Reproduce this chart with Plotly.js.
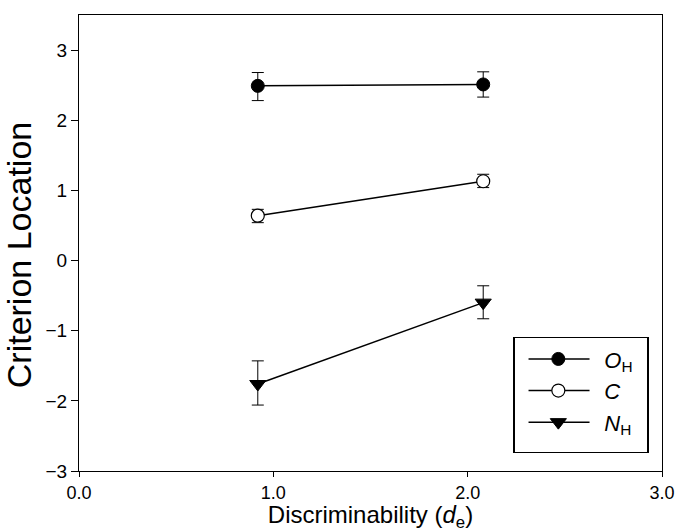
<!DOCTYPE html>
<html>
<head>
<meta charset="utf-8">
<script src="https://cdn.plot.ly/plotly-3.0.1.min.js"></script>
<style>html,body{margin:0;padding:0;background:#fff;}#chart{width:676px;height:532px;}</style>
</head>
<body>
<div id="chart"></div>
<script>
const xVals = [0.92, 2.08];
const seriesNames = ["<i>O</i><sub>H</sub>", "<i>C</i>", "<i>N</i><sub>H</sub>"];
const ohY = [2.49, 2.51];
const ohErrPlus = [0.19, 0.18];
const ohErrMinus = [0.21, 0.18];
const cY = [0.64, 1.13];
const cErrPlus = [0.09, 0.10];
const cErrMinus = [0.10, 0.09];
const nhY = [-1.76, -0.60];
const nhErrPlus = [0.33, 0.24];
const nhErrMinus = [0.30, 0.23];
const xTicks = [0, 1, 2, 3];
const xTickText = ["0.0", "1.0", "2.0", "3.0"];
const yTicks = [-3, -2, -1, 0, 1, 2, 3];
const yTickText = ["\u22123", "\u22122", "\u22121", "0", "1", "2", "3"];

function mk(name, y, ep, em, marker) {
  return {
    x: xVals, y: y, name: name, type: "scatter", mode: "lines+markers",
    line: {color: "#000", width: 1.5},
    marker: marker,
    error_y: {type: "data", symmetric: false, array: ep, arrayminus: em,
              color: "#000", thickness: 1, width: 6}
  };
}
const traces = [
  mk(seriesNames[0], ohY, ohErrPlus, ohErrMinus, {symbol: "circle", size: 13, color: "#000", line: {color: "#000", width: 1}}),
  mk(seriesNames[1], cY, cErrPlus, cErrMinus, {symbol: "circle", size: 13, color: "#fff", line: {color: "#000", width: 1.2}}),
  mk(seriesNames[2], nhY, nhErrPlus, nhErrMinus, {symbol: "triangle-down", size: 14, color: "#000", line: {color: "#000", width: 1}})
];
const font = {family: "Liberation Sans, Arial, sans-serif", color: "#000"};
const legendBoxWidth = 134;
const legendBoxHeight = 115;
const layout = {
  width: 676, height: 532,
  margin: {l: 79, r: 14, t: 15, b: 61},
  paper_bgcolor: "#fff", plot_bgcolor: "#fff",
  font: Object.assign({size: 18}, font),
  showlegend: true,
  legend: {
    x: 0.745, y: 0.294, xanchor: "left", yanchor: "top",
    bordercolor: "#000", borderwidth: 1.2, bgcolor: "#fff",
    font: Object.assign({size: 22}, font),
    tracegroupgap: 0
  },
  xaxis: {
    range: [0, 3], tickvals: xTicks, ticktext: xTickText,
    ticks: "outside", ticklen: 5, tickwidth: 1, tickcolor: "#000",
    showline: true, linecolor: "#000", linewidth: 1, mirror: true,
    showgrid: false, zeroline: false,
    tickfont: Object.assign({size: 18}, font),
    title: {text: "Discriminability (<i>d</i><sub>e</sub>)", font: Object.assign({size: 24}, font), standoff: 4}
  },
  yaxis: {
    range: [-3, 3.5], tickvals: yTicks, ticktext: yTickText,
    ticks: "outside", ticklen: 7, tickwidth: 1, tickcolor: "#000",
    showline: true, linecolor: "#000", linewidth: 1, mirror: true,
    showgrid: false, zeroline: false,
    tickfont: Object.assign({size: 19}, font),
    title: {text: "Criterion Location", font: Object.assign({size: 34}, font), standoff: 3}
  }
};
Plotly.newPlot("chart", traces, layout, {displayModeBar: false, staticPlot: true}).then(function (gd) {
  // widen legend symbol area to match reference layout
  gd.querySelectorAll(".legend .traces").forEach(function (g) {
    const m = /translate\(\s*([-\d.]+)/.exec(g.getAttribute("transform") || "");
    const tx = m ? parseFloat(m[1]) : 0;
    const pts = g.querySelector(".legendpoints");
    if (pts) pts.setAttribute("transform", "translate(" + (45 - tx - 20) + ",0)");
    g.querySelectorAll("path.js-line").forEach(function (p) { p.setAttribute("d", "M14,0h61"); });
    const t = g.querySelector("text.legendtext");
    if (t) t.setAttribute("x", 91 - tx);
  });
  gd.querySelectorAll(".legend rect.bg").forEach(function (r) {
    r.setAttribute("width", legendBoxWidth);
    r.setAttribute("height", legendBoxHeight);
  });
  document.querySelectorAll("clipPath").forEach(function (c) {
    if ((c.id || "").indexOf("legend") === 0) {
      c.querySelectorAll("rect").forEach(function (r) {
        r.setAttribute("width", legendBoxWidth);
        r.setAttribute("height", legendBoxHeight);
      });
    }
  });
  const yt = gd.querySelector(".ytitle");
  if (yt) yt.setAttribute("transform", "translate(0,12) " + (yt.getAttribute("transform") || ""));
});
</script>
</body>
</html>
